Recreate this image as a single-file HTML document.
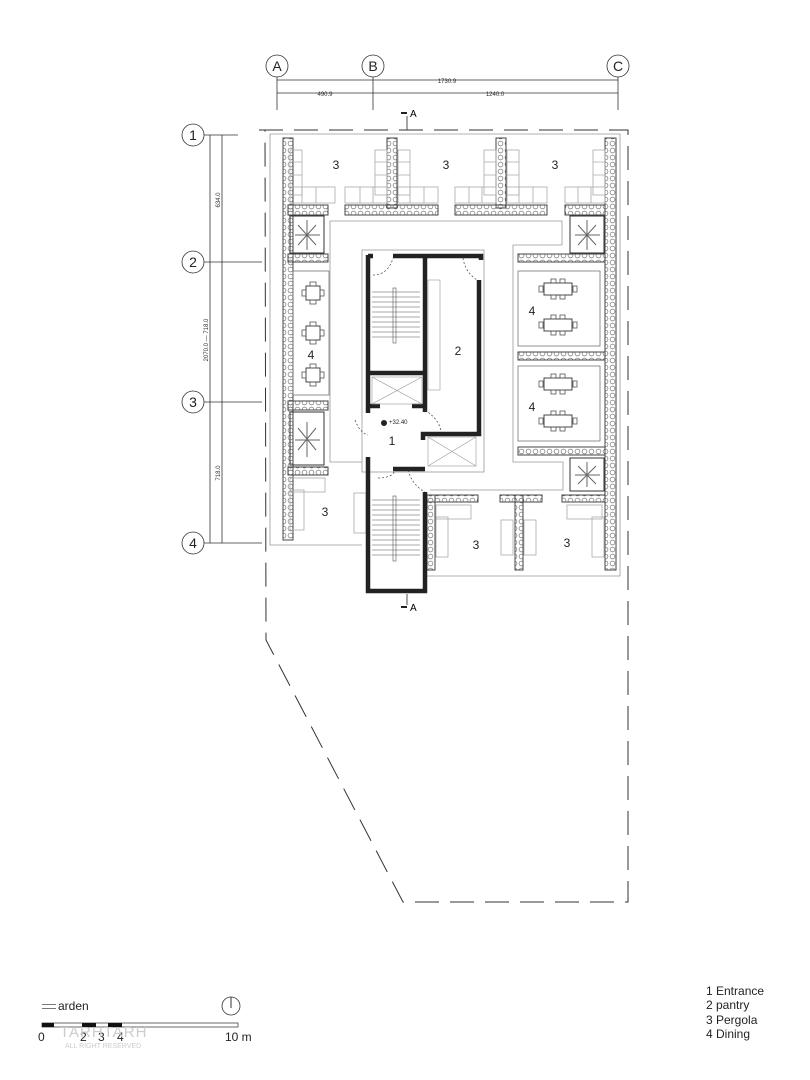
<!DOCTYPE html>
<html><head><meta charset="utf-8"><style>
body{margin:0;background:#fff}
svg{display:block;font-family:"Liberation Sans",sans-serif}
</style></head><body>
<svg width="810" height="1080" viewBox="0 0 810 1080" xmlns="http://www.w3.org/2000/svg">
<defs>
<pattern id="pl" width="7" height="7" patternUnits="userSpaceOnUse">
<circle cx="3.5" cy="3.5" r="2.4" fill="none" stroke="#777" stroke-width="0.7"/>
</pattern>
<g id="ch4" fill="none" stroke="#555" stroke-width="0.8">
<rect x="-3" y="-11" width="6" height="4"/><rect x="-3" y="7" width="6" height="4"/>
<rect x="-11" y="-3" width="4" height="6"/><rect x="7" y="-3" width="4" height="6"/>
</g>
<g id="ch6" fill="none" stroke="#555" stroke-width="0.8">
<rect x="-7" y="-10" width="5" height="4"/><rect x="2" y="-10" width="5" height="4"/>
<rect x="-7" y="6" width="5" height="4"/><rect x="2" y="6" width="5" height="4"/>
<rect x="-19" y="-3" width="4" height="6"/><rect x="15" y="-3" width="4" height="6"/>
</g>
</defs>
<rect width="810" height="1080" fill="#fff"/>
<g stroke="#333" stroke-width="0.8" fill="none">
<circle cx="277" cy="66" r="11"/><circle cx="373" cy="66" r="11"/><circle cx="618" cy="66" r="11"/>
<line x1="277" y1="80" x2="618" y2="80"/><line x1="277" y1="93" x2="618" y2="93"/>
<line x1="277" y1="77" x2="277" y2="110"/><line x1="373" y1="77" x2="373" y2="110"/><line x1="618" y1="77" x2="618" y2="110"/>
<circle cx="193" cy="135" r="11"/><circle cx="193" cy="262" r="11"/><circle cx="193" cy="402" r="11"/><circle cx="193" cy="543" r="11"/>
<line x1="210" y1="135" x2="210" y2="543"/><line x1="222" y1="135" x2="222" y2="543"/>
<line x1="204" y1="135" x2="238" y2="135"/><line x1="204" y1="262" x2="262" y2="262"/><line x1="204" y1="402" x2="262" y2="402"/><line x1="204" y1="543" x2="262" y2="543"/>
</g>
<g font-size="14" text-anchor="middle" fill="#222">
<text x="277" y="71">A</text><text x="373" y="71">B</text><text x="618" y="71">C</text>
<text x="193" y="140">1</text><text x="193" y="267">2</text><text x="193" y="407">3</text><text x="193" y="548">4</text>
</g>
<g font-size="6" fill="#333" text-anchor="middle">
<text x="447" y="83">1730.9</text><text x="325" y="96">490.9</text><text x="495" y="96">1240.0</text>
<text transform="translate(220,200) rotate(-90)">634.0</text>
<text transform="translate(208,340) rotate(-90)">2070.0 — 718.0</text>
<text transform="translate(220,473) rotate(-90)">718.0</text>
</g>
<g stroke="#222" stroke-width="0.8"><line x1="407" y1="116" x2="407" y2="130"/><line x1="401" y1="113" x2="407" y2="113" stroke-width="2"/>
<line x1="407" y1="594" x2="407" y2="605"/><line x1="401" y1="607" x2="407" y2="607" stroke-width="2"/></g>
<text x="410" y="117" font-size="10">A</text><text x="410" y="611" font-size="10">A</text>
<path d="M259 130 L628 130 L628 902 L403 902 L266 640 L265 130" fill="none" stroke="#333" stroke-width="1" stroke-dasharray="24,11"/>
<g fill="none" stroke="#999" stroke-width="0.8">
<path d="M270 134 L620 134 L620 576 L427 576"/>
<path d="M270 134 L270 545 L362 545"/>
<path d="M330 221 L562 221 L562 245 L513 245 L513 462 L563 462 L563 490 L430 490"/>
<path d="M330 221 L330 462 L362 462"/>
<rect x="362" y="250" width="122" height="222"/>
</g>
<g fill="url(#pl)" stroke="#444" stroke-width="1">
<rect x="283" y="138" width="10" height="402"/>
<rect x="605" y="138" width="11" height="432"/>
<rect x="387" y="138" width="10" height="70"/>
<rect x="496" y="138" width="10" height="70"/>
<rect x="288" y="205" width="40" height="10"/>
<rect x="345" y="205" width="93" height="10"/>
<rect x="455" y="205" width="92" height="10"/>
<rect x="565" y="205" width="40" height="10"/>
<rect x="288" y="254" width="40" height="8"/>
<rect x="518" y="254" width="87" height="8"/>
<rect x="288" y="401" width="40" height="9"/>
<rect x="288" y="467" width="40" height="8"/>
<rect x="518" y="352" width="87" height="8"/>
<rect x="518" y="447" width="87" height="8"/>
<rect x="427" y="495" width="51" height="7"/>
<rect x="500" y="495" width="42" height="7"/>
<rect x="562" y="495" width="43" height="7"/>
<rect x="427" y="495" width="8" height="75"/>
<rect x="515" y="495" width="8" height="75"/>
</g>
<g fill="none" stroke="#333" stroke-width="1">
<rect x="290" y="216" width="34" height="37"/><rect x="570" y="216" width="34" height="37"/>
<rect x="290" y="412" width="34" height="53"/><rect x="570" y="458" width="34" height="33"/>
</g>
<g stroke="#666" stroke-width="1" fill="none">
<path d="M307 220 l0 30 M295 235 l25 0 M298 225 l18 20 M316 225 l-18 20"/>
<path d="M587 220 l0 30 M575 235 l25 0 M578 225 l18 20 M596 225 l-18 20"/>
<path d="M307 422 l0 35 M295 440 l25 0 M298 428 l18 22 M316 428 l-18 22"/>
<path d="M587 462 l0 25 M575 475 l25 0 M578 466 l18 18 M596 466 l-18 18"/>
</g>
<g fill="none" stroke="#aaa" stroke-width="0.8">
<rect x="290" y="150" width="12" height="45"/><rect x="290" y="187" width="45" height="16"/>
<rect x="375" y="150" width="12" height="45"/><rect x="345" y="187" width="42" height="16"/>
<rect x="398" y="150" width="12" height="45"/><rect x="398" y="187" width="40" height="16"/>
<rect x="484" y="150" width="12" height="45"/><rect x="455" y="187" width="41" height="16"/>
<rect x="507" y="150" width="12" height="45"/><rect x="507" y="187" width="40" height="16"/>
<rect x="593" y="150" width="12" height="45"/><rect x="565" y="187" width="40" height="16"/>
<rect x="290" y="478" width="35" height="14"/><rect x="290" y="490" width="14" height="40"/>
<rect x="354" y="493" width="12" height="40"/>
<rect x="436" y="505" width="35" height="14"/><rect x="436" y="517" width="12" height="40"/>
<rect x="501" y="520" width="12" height="35"/><rect x="524" y="520" width="12" height="35"/>
<rect x="567" y="505" width="35" height="14"/><rect x="592" y="517" width="12" height="40"/>
<path d="M290 162h12M290 175h12M302 187v16M316 187v16M375 162h12M375 175h12M360 187v16M373 187v16M398 162h12M398 175h12M410 187v16M424 187v16M484 162h12M484 175h12M469 187v16M482 187v16M507 162h12M507 175h12M519 187v16M533 187v16M593 162h12M593 175h12M578 187v16M591 187v16"/>
</g>
<g fill="none" stroke="#777" stroke-width="0.8">
<rect x="293" y="271" width="36" height="124"/>
<rect x="518" y="271" width="82" height="75"/><rect x="518" y="366" width="82" height="75"/>
</g>
<g fill="none" stroke="#444" stroke-width="1">
<rect x="306" y="286" width="14" height="14"/><rect x="306" y="326" width="14" height="14"/><rect x="306" y="368" width="14" height="14"/>
<rect x="544" y="283" width="28" height="12"/><rect x="544" y="319" width="28" height="12"/>
<rect x="544" y="378" width="28" height="12"/><rect x="544" y="415" width="28" height="12"/>
</g>
<use href="#ch4" x="313" y="293"/><use href="#ch4" x="313" y="333"/><use href="#ch4" x="313" y="375"/>
<use href="#ch6" x="558" y="289"/><use href="#ch6" x="558" y="325"/><use href="#ch6" x="558" y="384"/><use href="#ch6" x="558" y="421"/>
<g fill="none" stroke="#222" stroke-width="4.5">
<path d="M368 255 L368 413 M368 457 L368 591 L425 591 L425 492"/>
<path d="M368 256 L373 256 M393 256 L481 256 L481 260"/>
<path d="M425 256 L425 412"/>
<path d="M479 280 L479 434 L423 434 L423 440"/>
<path d="M393 469 L425 469"/>
<path d="M368 373 L425 373 M368 406 L380 406 M412 406 L425 406"/>
</g>
<g fill="none" stroke="#999" stroke-width="0.6">
<rect x="372" y="377" width="50" height="27"/><path d="M372 377 L422 404 M422 377 L372 404"/>
<rect x="428" y="437" width="48" height="29"/><path d="M428 437 L476 466 M476 437 L428 466"/>
<rect x="428" y="280" width="12" height="110"/>
</g>
<g stroke="#555" stroke-width="0.6">
<path d="M372 292h48M372 297h48M372 302h48M372 307h48M372 312h48M372 317h48M372 322h48M372 327h48M372 332h48M372 337h48"/>
<path d="M372 500h48M372 505h48M372 510h48M372 515h48M372 520h48M372 525h48M372 530h48M372 535h48M372 540h48M372 545h48M372 550h48M372 555h48"/>
<rect x="393" y="288" width="3" height="55" fill="none"/><rect x="393" y="496" width="3" height="65" fill="none"/>
</g>
<g fill="none" stroke="#444" stroke-width="0.7" stroke-dasharray="2,2">
<path d="M373 275 Q388 275 393 258"/><path d="M463 258 Q465 272 477 280"/>
<path d="M355 420 Q360 433 368 435"/><path d="M425 410 Q440 420 441 432"/>
<path d="M378 478 Q393 478 395 470"/><path d="M408 470 Q412 485 425 492"/>
</g>
<circle cx="384" cy="423" r="3" fill="#222"/>
<text x="389" y="424" font-size="6" fill="#222">+32.40</text>
<g font-size="12" fill="#222" text-anchor="middle">
<text x="336" y="169">3</text><text x="446" y="169">3</text><text x="555" y="169">3</text>
<text x="325" y="516">3</text><text x="476" y="549">3</text><text x="567" y="547">3</text>
<text x="311" y="359">4</text><text x="532" y="315">4</text><text x="532" y="411">4</text>
<text x="392" y="445">1</text><text x="458" y="355">2</text>
</g>
<text x="58" y="1010" font-size="12" fill="#222">arden</text>
<rect x="42" y="1004" width="14" height="1" fill="#777"/><rect x="42" y="1008" width="14" height="1" fill="#777"/>
<rect x="42" y="1023" width="196" height="4" fill="none" stroke="#444" stroke-width="0.8"/>
<rect x="42" y="1023" width="12" height="4" fill="#111"/><rect x="82" y="1023" width="14" height="4" fill="#111"/><rect x="108" y="1023" width="14" height="4" fill="#111"/>
<circle cx="231" cy="1006" r="9" fill="none" stroke="#333" stroke-width="0.8"/><line x1="231" y1="997" x2="231" y2="1008" stroke="#333"/>
<g font-size="12" fill="#222"><text x="38" y="1041">0</text><text x="80" y="1041">2</text><text x="98" y="1041">3</text><text x="117" y="1041">4</text><text x="225" y="1041">10 m</text></g>
<text x="60" y="1037" font-size="15" fill="#ccc" letter-spacing="1">TARHTARH</text>
<text x="65" y="1048" font-size="7" fill="#ccc">ALL RIGHT RESERVED</text>
<g font-size="12" fill="#222"><text x="706" y="995">1 Entrance</text><text x="706" y="1009">2 pantry</text><text x="706" y="1024">3 Pergola</text><text x="706" y="1038">4 Dining</text></g>
</svg>
</body></html>
